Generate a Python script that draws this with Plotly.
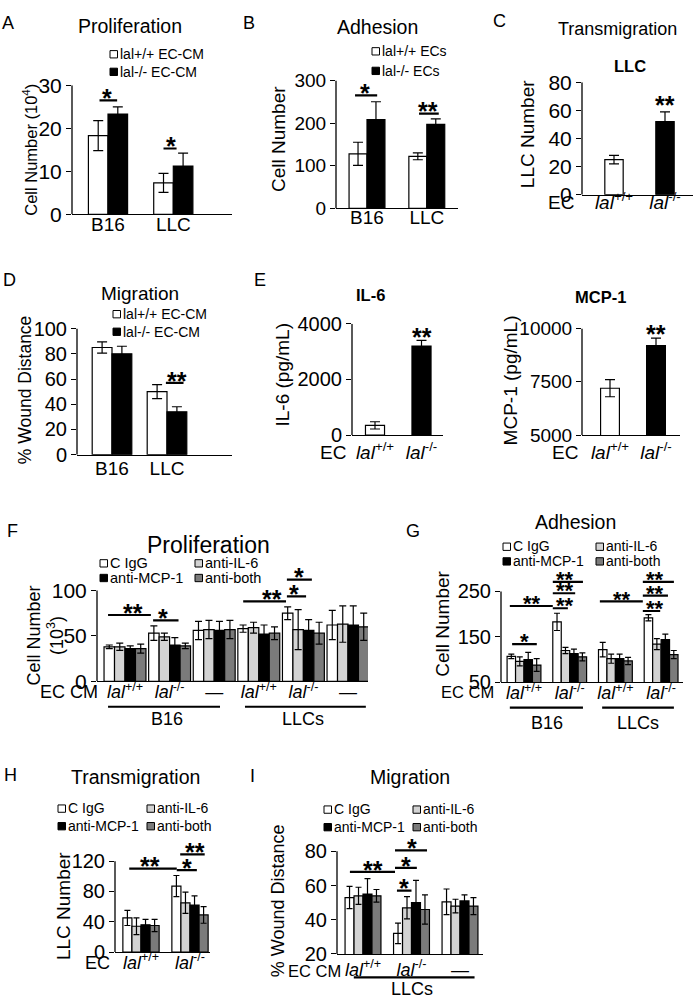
import plotly.graph_objects as go

W, H = 693, 1006
FONT = "Liberation Sans, Arial, sans-serif"

def fx(p):
    return p / W

def fy(p):
    return 1 - p / H

LAL_WT = "<i>lal</i><sup>+/+</sup>"
LAL_KO = "<i>lal</i><sup>-/-</sup>"

# ---------------- data ----------------
# A  Proliferation (10^4)
a_cats = ["B16", "LLC"]
a_wt = [18.3, 7.3]
a_wt_err = [3.5, 2.2]
a_ko = [23.3, 11.2]
a_ko_err = [1.7, 3.0]
a_legend = ["lal+/+ EC-CM", "lal-/- EC-CM"]

# B  Adhesion
b_cats = ["B16", "LLC"]
b_wt = [128, 122]
b_wt_err = [27, 8]
b_ko = [208, 197]
b_ko_err = [42, 13]
b_legend = ["lal+/+ ECs", "lal-/- ECs"]

# C  Transmigration LLC
c_cats = [LAL_WT, LAL_KO]
c_vals = [25, 52]
c_err = [3, 7]

# D  Migration
d_cats = ["B16", "LLC"]
d_wt = [85, 50]
d_wt_err = [4.5, 5.5]
d_ko = [80, 34]
d_ko_err = [6, 4]
d_legend = ["lal+/+ EC-CM", "lal-/- EC-CM"]

# E  IL-6 / MCP-1
e_cats = [LAL_WT, LAL_KO]
e_il6 = [350, 3200]
e_il6_err = [130, 200]
e_mcp1 = [7200, 9200]
e_mcp1_err = [400, 350]

# antibody series names
ab_names = ["C IgG", "anti-IL-6", "anti-MCP-1", "anti-both"]

# F  Proliferation (10^3)
f_cats = [LAL_WT, LAL_KO, "\u2014", LAL_WT, LAL_KO, "\u2014"]
f_igg = [38, 53, 56, 58, 75, 62]
f_igg_err = [2, 8, 10, 4, 7, 16]
f_il6 = [38, 49, 57, 59, 57, 63]
f_il6_err = [4, 4, 10, 6, 22, 20]
f_mcp1 = [36, 40, 56, 52, 56, 62]
f_mcp1_err = [3, 8, 10, 10, 12, 21]
f_both = [36, 39, 57, 53, 53, 60]
f_both_err = [5, 3, 10, 7, 12, 15]

# G  Adhesion
g_cats = [LAL_WT, LAL_KO, LAL_WT, LAL_KO]
g_igg = [107, 183, 122, 192]
g_igg_err = [5, 19, 16, 7]
g_il6 = [96, 120, 102, 134]
g_il6_err = [10, 7, 10, 12]
g_mcp1 = [100, 113, 102, 144]
g_mcp1_err = [16, 10, 10, 12]
g_both = [88, 106, 97, 111]
g_both_err = [14, 9, 8, 9]

# H  Transmigration
h_cats = [LAL_WT, LAL_KO]
h_igg = [45, 87]
h_igg_err = [10, 14]
h_il6 = [34, 65]
h_il6_err = [11, 14]
h_mcp1 = [36, 62]
h_mcp1_err = [7, 12]
h_both = [35, 49]
h_both_err = [8, 11]

# I  Migration
i_cats = [LAL_WT, LAL_KO, "\u2014"]
i_igg = [53, 32, 50.5]
i_igg_err = [6.5, 6, 7.5]
i_il6 = [54, 47, 48]
i_il6_err = [5, 6.5, 4]
i_mcp1 = [55, 50, 51]
i_mcp1_err = [9, 13, 3.5]
i_both = [54, 46, 48]
i_both_err = [3.7, 8.5, 5]

# ---------------- styling ----------------
WHITE, LIGHT, BLACK, DARK = "#ffffff", "#d3d3d3", "#000000", "#7b7b7b"
AB_COLORS = [WHITE, LIGHT, BLACK, DARK]

fig = go.Figure()
layout = dict(
    width=W, height=H, margin=dict(l=0, r=0, t=0, b=0),
    paper_bgcolor="white", plot_bgcolor="rgba(0,0,0,0)",
    showlegend=False, barmode="overlay",
    font=dict(family=FONT, color="black"),
)
annotations = []
shapes = []


def ann(text, px, py, size, xanchor="center", yanchor="middle", angle=0):
    annotations.append(dict(
        text=text, x=fx(px), y=fy(py), xref="paper", yref="paper",
        showarrow=False, xanchor=xanchor, yanchor=yanchor, textangle=angle,
        font=dict(size=size, family=FONT, color="black")))


def setup(k, xl, xr, c0, sp, ymin_px, ref_px, ymin, ref, ymax, yticks,
          xtt, tickfs, xtickfs, standoff=-6):
    xa = "xaxis" if k == 1 else "xaxis%d" % k
    ya = "yaxis" if k == 1 else "yaxis%d" % k
    xid = "x" if k == 1 else "x%d" % k
    yid = "y" if k == 1 else "y%d" % k
    s = (ymin_px - ref_px) / (ref - ymin)
    top_px = ymin_px - (ymax - ymin) * s
    layout[xa] = dict(
        domain=[fx(xl), fx(xr)], range=[(xl - c0) / sp, (xr - c0) / sp],
        anchor=yid, showline=True, linecolor="black", linewidth=1.3,
        ticks="", showgrid=False, zeroline=False,
        tickvals=list(range(len(xtt))), ticktext=xtt,
        ticklabelstandoff=standoff,
        tickfont=dict(size=xtickfs, family=FONT, color="black"))
    layout[ya] = dict(
        domain=[fy(ymin_px), fy(top_px)], range=[ymin, ymax], anchor=xid,
        showline=False, ticks="outside", ticklen=5, tickwidth=1.3,
        tickcolor="black", tickvals=yticks, tickformat="d",
        showgrid=False, zeroline=False,
        tickfont=dict(size=tickfs, family=FONT, color="black"))
    shapes.append(dict(type="line", xref="paper", yref=yid,
                       x0=fx(xl), x1=fx(xl), y0=ymin, y1=yticks[-1],
                       line=dict(color="black", width=1.3)))
    return xid, yid


def add_bars(xid, yid, series, width, cap):
    n = len(series)
    for i, (vals, errs, color) in enumerate(series):
        off = -n * width / 2 + i * width
        fig.add_trace(go.Bar(
            x=list(range(len(vals))), y=vals, width=width, offset=off,
            marker=dict(color=color, line=dict(color="black", width=1.2)),
            error_y=dict(type="data", array=errs, color="black",
                         thickness=1.2, width=cap),
            xaxis=xid, yaxis=yid, showlegend=False))


def add_single(xid, yid, vals, errs, colors, width, cap):
    fig.add_trace(go.Bar(
        x=list(range(len(vals))), y=vals, width=width, offset=-width / 2,
        marker=dict(color=colors, line=dict(color="black", width=1.2)),
        error_y=dict(type="data", array=errs, color="black",
                     thickness=1.2, width=cap),
        xaxis=xid, yaxis=yid, showlegend=False))


def sig(xid, yid, x0, x1, y, stars, xs, size=25):
    if x0 is not None:
        shapes.append(dict(type="line", xref=xid, yref=yid, x0=x0, x1=x1,
                           y0=y, y1=y, line=dict(color="black", width=2.2)))
    annotations.append(dict(
        text="<b>" + stars + "</b>", x=xs, y=y, xref=xid, yref=yid,
        showarrow=False, xanchor="center", yanchor="bottom",
        yshift=-0.55 * size,
        font=dict(size=size, family=FONT, color="black")))


def legend_item(px, py, color, text, size):
    shapes.append(dict(type="rect", xref="paper", yref="paper",
                       x0=fx(px), x1=fx(px + 7.5), y0=fy(py + 4), y1=fy(py - 3.5),
                       fillcolor=color, line=dict(color="black", width=1)))
    ann(text, px + 8, py, size, xanchor="left")


def group_line(xid, x0, x1, py):
    shapes.append(dict(type="line", xref=xid, yref="paper", x0=x0, x1=x1,
                       y0=fy(py), y1=fy(py), line=dict(color="black", width=2.2)))


def group_label(xid, x, py, text, size):
    annotations.append(dict(text=text, x=x, y=fy(py), xref=xid, yref="paper",
                            showarrow=False, xanchor="center", yanchor="middle",
                            font=dict(size=size, family=FONT, color="black")))


# ---------------- Panel A ----------------
x1, y1 = setup(1, 72, 232, 108, 65.3, 207, 75, 0, 30, 30, [0, 10, 20, 30],
               a_cats, 21, 19, -7)
add_bars(x1, y1, [(a_wt, a_wt_err, WHITE), (a_ko, a_ko_err, BLACK)], 0.3, 5)
sig(x1, y1, -0.13, 0.14, 26.5, "*", -0.01)
sig(x1, y1, 0.85, 1.05, 15.3, "*", 0.96)
ann("A", 8, 11, 18)
ann("Proliferation", 130, 14, 19.5)
legend_item(110, 43, WHITE, a_legend[0], 14)
legend_item(110, 61, BLACK, a_legend[1], 14)
ann("Cell Number (10<sup>4</sup>)", 30, 141, 16.5, angle=-90)

# ---------------- Panel B ----------------
x2, y2 = setup(2, 336, 458, 367, 59.8, 201, 70, 0, 300, 300,
               [0, 100, 200, 300], b_cats, 19, 19, -8)
add_bars(x2, y2, [(b_wt, b_wt_err, WHITE), (b_ko, b_ko_err, BLACK)], 0.3, 5)
sig(x2, y2, -0.2, 0.17, 265, "*", -0.03)
sig(x2, y2, 0.87, 1.2, 222, "**", 1.02)
ann("B", 249, 11, 18)
ann("Adhesion", 377, 15, 19.5)
legend_item(372, 40, WHITE, b_legend[0], 14)
legend_item(372, 60, BLACK, b_legend[1], 14)
ann("Cell Number", 278, 130, 19, angle=-90)

# ---------------- Panel C ----------------
x3, y3 = setup(3, 582, 693, 614, 51, 187, 72, 0, 80, 80,
               [0, 20, 40, 60, 80], c_cats, 21, 19, -10)
add_single(x3, y3, c_vals, c_err, [WHITE, BLACK], 0.36, 5)
sig(x3, y3, None, None, 62, "**", 1.0)
ann("C", 499, 9, 18)
ann("Transmigration", 617, 17, 18)
ann("<b>LLC</b>", 630, 55, 16.5)
ann("EC", 561, 195, 19)
ann("LLC Number", 527, 125, 19, angle=-90)

# ---------------- Panel D ----------------
x4, y4 = setup(4, 77, 232, 112, 55, 453, 324, 0, 100, 100,
               [0, 20, 40, 60, 80, 100], d_cats, 20, 19, -4)
add_bars(x4, y4, [(d_wt, d_wt_err, WHITE), (d_ko, d_ko_err, BLACK)], 0.36, 5)
sig(x4, y4, 0.98, 1.3, 57, "**", 1.18)
ann("D", 9, 274, 18)
ann("Migration", 140, 288, 19)
legend_item(113, 309, WHITE, d_legend[0], 14)
legend_item(113, 327, BLACK, d_legend[1], 14)
ann("% Wound Distance", 25, 387, 17.5, angle=-90)

# ---------------- Panel E ----------------
x5, y5 = setup(5, 352, 443, 375, 46.5, 433, 319, 0, 4000, 4000,
               [0, 2000, 4000], e_cats, 20, 19, 0)
add_single(x5, y5, e_il6, e_il6_err, [WHITE, BLACK], 0.41, 5)
sig(x5, y5, None, None, 3450, "**", 1.0)
x6, y6 = setup(6, 582, 680, 610, 46, 433, 324, 5000, 10000, 10000,
               [5000, 7500, 10000], e_cats, 19, 19, 0)
add_single(x6, y6, e_mcp1, e_mcp1_err, [WHITE, BLACK], 0.41, 5)
sig(x6, y6, None, None, 9620, "**", 1.0)
ann("E", 260, 274, 18)
ann("<b>IL-6</b>", 370, 290, 16.5)
ann("<b>MCP-1</b>", 600, 292, 16.5)
ann("EC", 333, 451, 19)
ann("EC", 565, 451, 19)
ann("IL-6 (pg/mL)", 282, 372, 19, angle=-90)
ann("MCP-1 (pg/mL)", 510, 377, 19, angle=-90)

# ---------------- Panel F ----------------
x7, y7 = setup(7, 97, 368, 125, 44.6, 685, 592, 0, 100, 122,
               [0, 50, 100], f_cats, 21, 18, -6)
add_bars(x7, y7, [(f_igg, f_igg_err, WHITE), (f_il6, f_il6_err, LIGHT),
                  (f_mcp1, f_mcp1_err, BLACK), (f_both, f_both_err, DARK)],
         0.235, 3.5)
sig(x7, y7, -0.38, 0.58, 73, "**", 0.18)
sig(x7, y7, 0.63, 1.2, 67, "*", 0.85)
sig(x7, y7, 2.65, 3.61, 88, "**", 3.3)
sig(x7, y7, 3.63, 4.06, 93.5, "*", 3.8)
sig(x7, y7, 3.63, 4.19, 112, "*", 3.9)
ann("F", 12, 531, 18)
ann("Proliferation", 208, 545, 23)
legend_item(100, 564, AB_COLORS[0], ab_names[0], 14.5)
legend_item(195, 564, AB_COLORS[1], ab_names[1], 14.5)
legend_item(100, 579, AB_COLORS[2], ab_names[2], 14.5)
legend_item(195, 579, AB_COLORS[3], ab_names[3], 14.5)
ann("Cell Number<br>(10<sup>3</sup>)", 45, 638, 18, angle=-90)
ann("EC CM", 69, 696, 18)
group_line(x7, -0.38, 2.13, 711)
group_line(x7, 2.69, 5.4, 711)
group_label(x7, 0.95, 724, "B16", 18)
group_label(x7, 4.0, 724, "LLCs", 18)

# ---------------- Panel G ----------------
x8, y8 = setup(8, 501, 683, 524, 45.7, 686, 593, 50, 250, 300,
               [50, 150, 250], g_cats, 20, 18, -6)
add_bars(x8, y8, [(g_igg, g_igg_err, WHITE), (g_il6, g_il6_err, LIGHT),
                  (g_mcp1, g_mcp1_err, BLACK), (g_both, g_both_err, DARK)],
         0.185, 3)
sig(x8, y8, -0.26, 0.28, 134, "*", 0.02, 22)
sig(x8, y8, -0.31, 0.63, 218, "**", 0.18, 22)
sig(x8, y8, 0.63, 0.96, 213, "**", 0.9, 22)
sig(x8, y8, 0.63, 1.12, 246, "**", 0.9, 22)
sig(x8, y8, 0.63, 1.29, 271, "**", 0.9, 22)
sig(x8, y8, 1.66, 2.6, 228, "**", 2.14, 22)
sig(x8, y8, 2.6, 2.98, 207, "**", 2.87, 22)
sig(x8, y8, 2.6, 3.15, 241, "**", 2.87, 22)
sig(x8, y8, 2.6, 3.28, 271, "**", 2.87, 22)
ann("G", 413, 531, 18)
ann("Adhesion", 575, 522, 19.5)
legend_item(503, 547, AB_COLORS[0], ab_names[0], 14)
legend_item(596, 547, AB_COLORS[1], ab_names[1], 14)
legend_item(503, 562, AB_COLORS[2], ab_names[2], 14)
legend_item(596, 562, AB_COLORS[3], ab_names[3], 14)
ann("Cell Number", 443, 626, 19, angle=-90)
ann("EC CM", 467, 696, 16.5)
group_line(x8, -0.31, 1.29, 712)
group_line(x8, 1.71, 3.28, 712)
group_label(x8, 0.5, 728, "B16", 18)
group_label(x8, 2.5, 728, "LLCs", 18)

# ---------------- Panel H ----------------
x9, y9 = setup(9, 115, 210, 141, 49, 962, 869, 0, 120, 145,
               [0, 40, 80, 120], h_cats, 20, 18, -6)
add_bars(x9, y9, [(h_igg, h_igg_err, WHITE), (h_il6, h_il6_err, LIGHT),
                  (h_mcp1, h_mcp1_err, BLACK), (h_both, h_both_err, DARK)],
         0.185, 3)
sig(x9, y9, -0.24, 0.73, 110, "**", 0.18)
sig(x9, y9, 0.73, 1.14, 108, "*", 0.94)
sig(x9, y9, 0.8, 1.3, 129, "**", 1.1)
ann("H", 10, 781, 18)
ann("Transmigration", 135, 783, 19.5)
legend_item(58, 815, AB_COLORS[0], ab_names[0], 14)
legend_item(147, 815, AB_COLORS[1], ab_names[1], 14)
legend_item(58, 833, AB_COLORS[2], ab_names[2], 14)
legend_item(147, 833, AB_COLORS[3], ab_names[3], 14)
ann("LLC Number", 63, 915, 19, angle=-90)
ann("EC", 97, 973, 18)

# ---------------- Panel I ----------------
x10, y10 = setup(10, 337, 483, 363, 48.5, 964, 859, 20, 80, 88,
                 [20, 40, 60, 80], i_cats, 20, 18, -1)
add_bars(x10, y10, [(i_igg, i_igg_err, WHITE), (i_il6, i_il6_err, LIGHT),
                    (i_mcp1, i_mcp1_err, BLACK), (i_both, i_both_err, DARK)],
         0.185, 3)
sig(x10, y10, -0.27, 0.66, 68, "**", 0.2)
sig(x10, y10, 0.66, 1.11, 70.3, "*", 0.89)
sig(x10, y10, 0.66, 1.32, 80.6, "*", 1.01)
sig(x10, y10, 0.7, 1.0, 57, "*", 0.85)
ann("I", 252, 782, 18)
ann("Migration", 410, 783, 19.5)
legend_item(324, 816, AB_COLORS[0], ab_names[0], 14)
legend_item(413, 816, AB_COLORS[1], ab_names[1], 14)
legend_item(324, 834, AB_COLORS[2], ab_names[2], 14)
legend_item(413, 834, AB_COLORS[3], ab_names[3], 14)
ann("% Wound Distance", 278, 910, 18, angle=-90)
ann("EC CM", 314, 981, 16.5)
group_line(x10, -0.19, 2.3, 988)
group_label(x10, 1.0, 1000, "LLCs", 18)

layout["annotations"] = annotations
layout["shapes"] = shapes
fig.update_layout(**layout)
fig.write_html("out.html",
               config={"displayModeBar": False},
               post_script="document.body.style.margin='0';"
                           "document.body.style.overflow='hidden';")
